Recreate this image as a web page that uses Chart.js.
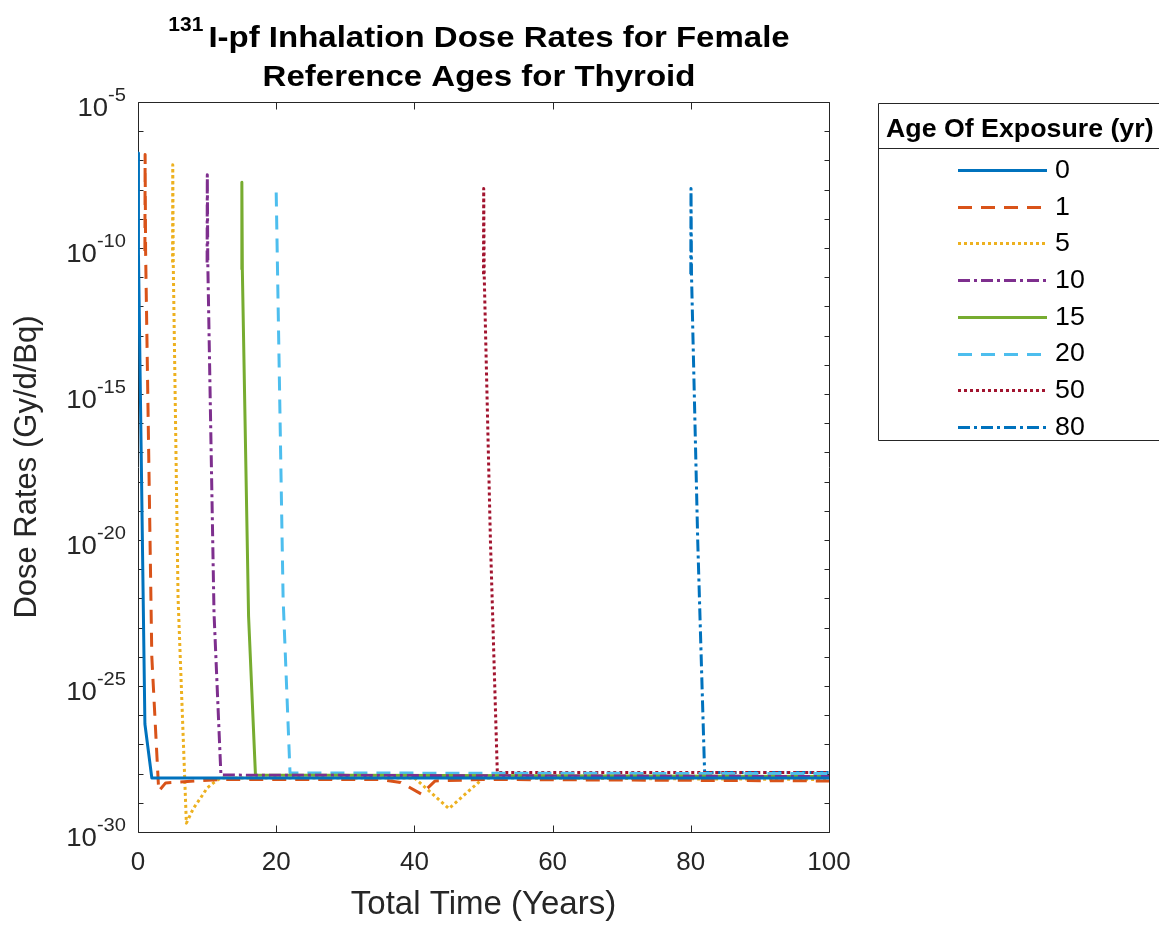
<!DOCTYPE html>
<html><head><meta charset="utf-8">
<script src="https://cdn.jsdelivr.net/npm/chart.js@4.4.0/dist/chart.umd.min.js"></script>
<style>html,body{margin:0;padding:0;background:#fff;}#wrap{width:1159px;height:926px;}</style>
</head><body><div id="wrap"><canvas id="c" width="1159" height="926"></canvas></div>
<script>
// ---------- data ----------
const ages = ['0', '1', '5', '10', '15', '20', '50', '80'];

const t0 = [0, 0.03, 0.1, 1, 2, 100];
const v0 = [6.8e-11, 1.8e-7, 6.8e-11, 5.0e-27, 7.1e-29, 7.1e-29];

const t1 = [1, 1.03, 1.1, 2, 3, 4, 12, 35, 38, 41, 43, 50, 100];
const v1 = [7.9e-11, 1.6e-7, 7.9e-11, 1.0e-24, 2.5e-29, 4.8e-29, 6.3e-29, 6.3e-29, 5.0e-29, 2.0e-29, 5.6e-29, 6.3e-29, 5.6e-29];

const t5 = [5, 5.03, 5.1, 5.8, 7, 8, 9, 10, 11, 12, 40, 45, 50, 100];
const v5 = [3.2e-11, 7.1e-8, 3.2e-11, 1.0e-22, 2.0e-30, 6.3e-30, 1.4e-29, 3.2e-29, 5.0e-29, 7.1e-29, 7.1e-29, 6.3e-30, 7.1e-29, 6.3e-29];

const t10 = [10, 10.03, 10.1, 11, 12, 100];
const v10 = [3.2e-11, 3.2e-8, 3.2e-11, 3.2e-23, 8.9e-29, 7.9e-29];

const t15 = [15, 15.03, 15.1, 16, 17, 100];
const v15 = [1.8e-11, 1.8e-8, 1.8e-11, 2.5e-23, 8.9e-29, 7.9e-29];

const t20 = [20, 21, 22, 100];
const v20 = [7.9e-9, 1.0e-22, 1.05e-28, 1.0e-28];

const t50 = [50, 50.03, 50.1, 51, 52, 100];
const v50 = [1.26e-11, 1.1e-8, 1.26e-11, 1.0e-20, 1.1e-28, 1.1e-28];

const t80 = [80, 80.03, 80.1, 81, 82, 100];
const v80 = [1.26e-11, 1.1e-8, 1.26e-11, 1.0e-20, 1.1e-28, 1.1e-28];

const xTicks = [0, 20, 40, 60, 80, 100];
const yLabelExps = [-5, -10, -15, -20, -25, -30];
const yMinExp = -30, yMaxExp = -5;

const titleSup = '131';
const titleLine1 = 'I-pf Inhalation Dose Rates for Female';
const titleLine2 = 'Reference Ages for Thyroid';
const legendTitle = 'Age Of Exposure (yr)';
const xTitle = 'Total Time (Years)';
const yTitle = 'Dose Rates (Gy/d/Bq)';

// ---------- styles ----------
const colors = ['#0072BD', '#D95319', '#EDB120', '#7E2F8E', '#77AC30', '#4DBEEE', '#A2142F', '#0072BD'];
const dashes = [[], [14, 9], [3, 3], [12, 4, 3, 4], [], [14, 9], [3, 3], [12, 4, 3, 4]];
const FONT = '"Liberation Sans", Arial, Helvetica, sans-serif';
const INK = '#262626';

const series = [[t0, v0], [t1, v1], [t5, v5], [t10, v10], [t15, v15], [t20, v20], [t50, v50], [t80, v80]];

const datasets = series.map((s, i) => ({
  label: ages[i],
  data: s[0].map((tt, k) => ({x: tt, y: s[1][k]})),
  borderColor: colors[i],
  backgroundColor: colors[i],
  borderDash: dashes[i],
  borderWidth: 3,
  pointRadius: 0,
  pointHoverRadius: 0,
  tension: 0,
  fill: false,
  borderCapStyle: 'butt',
  borderJoinStyle: 'round'
}));

const decadeTicks = [];
for (let e = yMinExp; e <= yMaxExp; e++) decadeTicks.push(Number('1e' + e));

function stretchText(ctx, text, x, y, sx) {
  ctx.save();
  ctx.translate(x, y);
  ctx.scale(sx, 1);
  ctx.fillText(text, 0, 0);
  ctx.restore();
}

const decor = {
  id: 'decor',
  beforeDatasetsDraw(chart) {
    const {ctx, chartArea: a, scales: {x, y}} = chart;
    ctx.save();
    ctx.strokeStyle = INK;
    ctx.lineWidth = 1;
    ctx.setLineDash([]);
    const L = Math.round(a.left) + 0.5, R = Math.round(a.right) + 0.5;
    const T = Math.round(a.top) + 0.5, B = Math.round(a.bottom) + 0.5;
    ctx.beginPath();
    ctx.rect(L, T, R - L, B - T);
    x.ticks.forEach(t => {
      const p = Math.round(x.getPixelForValue(t.value)) + 0.5;
      ctx.moveTo(p, B); ctx.lineTo(p, B - 7);
      ctx.moveTo(p, T); ctx.lineTo(p, T + 7);
    });
    y.ticks.forEach(t => {
      const p = Math.round(y.getPixelForValue(t.value)) + 0.5;
      ctx.moveTo(L, p); ctx.lineTo(L + 5, p);
      ctx.moveTo(R, p); ctx.lineTo(R - 5, p);
    });
    ctx.stroke();
    ctx.restore();
  },
  afterDraw(chart) {
    const {ctx, chartArea: a, scales: {y}} = chart;
    ctx.save();
    // y tick labels 10^e
    ctx.fillStyle = INK;
    ctx.textBaseline = 'alphabetic';
    ctx.textAlign = 'left';
    const sxT = 1.06;
    yLabelExps.forEach(e => {
      const p = y.getPixelForValue(Number('1e' + e));
      const es = String(e);
      ctx.font = '19px ' + FONT;
      const ew = ctx.measureText(es).width * sxT;
      ctx.font = '26px ' + FONT;
      const bw = ctx.measureText('10').width * sxT;
      const right = a.left - 12;
      stretchText(ctx, '10', right - ew - bw, p + 13.5, sxT);
      ctx.font = '19px ' + FONT;
      stretchText(ctx, es, right - ew, p - 1, sxT);
    });

    // title
    ctx.fillStyle = '#000';
    const sxTitle = 1.1;
    ctx.font = 'bold 21px ' + FONT;
    const supW = ctx.measureText(titleSup).width;
    ctx.font = 'bold 30px ' + FONT;
    const l1W = ctx.measureText(titleLine1).width * sxTitle;
    const l2W = ctx.measureText(titleLine2).width * sxTitle;
    const cx = 479;
    const gap = 5;
    const start1 = cx - (supW + gap + l1W) / 2;
    ctx.font = 'bold 21px ' + FONT;
    ctx.fillText(titleSup, start1, 31);
    ctx.font = 'bold 30px ' + FONT;
    stretchText(ctx, titleLine1, start1 + supW + gap, 47, sxTitle);
    stretchText(ctx, titleLine2, cx - l2W / 2, 86, sxTitle);

    // legend
    const lx = 878.5, ly = 103.5, lbot = 440.5, lr = 1170;
    ctx.strokeStyle = INK;
    ctx.lineWidth = 1;
    ctx.beginPath();
    ctx.rect(lx, ly, lr - lx, lbot - ly);
    ctx.moveTo(lx, 148.5); ctx.lineTo(lr, 148.5);
    ctx.stroke();
    ctx.fillStyle = '#000';
    ctx.font = 'bold 25px ' + FONT;
    stretchText(ctx, legendTitle, 886, 137, 1.07);
    chart.data.datasets.forEach((ds, i) => {
      const yc = 170 + i * 36.7;
      ctx.save();
      ctx.strokeStyle = ds.borderColor;
      ctx.lineWidth = 3;
      ctx.setLineDash(ds.borderDash);
      ctx.beginPath();
      ctx.moveTo(958, Math.round(yc) + 0.5);
      ctx.lineTo(1047, Math.round(yc) + 0.5);
      ctx.stroke();
      ctx.restore();
      ctx.fillStyle = '#000';
      ctx.font = '25px ' + FONT;
      ctx.textBaseline = 'middle';
      stretchText(ctx, ds.label, 1055, yc + 1, 1.07);
      ctx.textBaseline = 'alphabetic';
    });
    ctx.restore();
  }
};

new Chart(document.getElementById('c'), {
  type: 'line',
  data: {datasets},
  options: {
    responsive: false,
    animation: false,
    devicePixelRatio: 1,
    layout: {padding: {left: 0, top: 102, right: 330, bottom: 0}},
    plugins: {legend: {display: false}, title: {display: false}, tooltip: {enabled: false}},
    events: [],
    scales: {
      x: {
        type: 'linear', min: 0, max: 100,
        afterBuildTicks: s => { s.ticks = xTicks.map(v => ({value: v})); },
        ticks: {font: {family: FONT, size: 26}, color: INK, padding: 15, maxRotation: 0, autoSkip: false},
        grid: {display: false, drawTicks: false},
        border: {display: false},
        title: {display: true, text: xTitle, font: {family: FONT, size: 33}, color: INK, padding: {top: 0, bottom: 1}},
        afterFit: s => { s.height = 94; s.paddingLeft = 0; s.paddingRight = 0; }
      },
      y: {
        type: 'logarithmic', min: 1e-30, max: 1e-5,
        afterBuildTicks: s => { s.ticks = decadeTicks.map(v => ({value: v})); },
        ticks: {display: false},
        grid: {display: false, drawTicks: false},
        border: {display: false},
        title: {display: true, text: yTitle, font: {family: FONT, size: 31}, color: INK, padding: {top: 9, bottom: 0}},
        afterFit: s => { s.width = 138; s.paddingTop = 0; s.paddingBottom = 0; }
      }
    }
  },
  plugins: [decor]
});
</script>
</body></html>
